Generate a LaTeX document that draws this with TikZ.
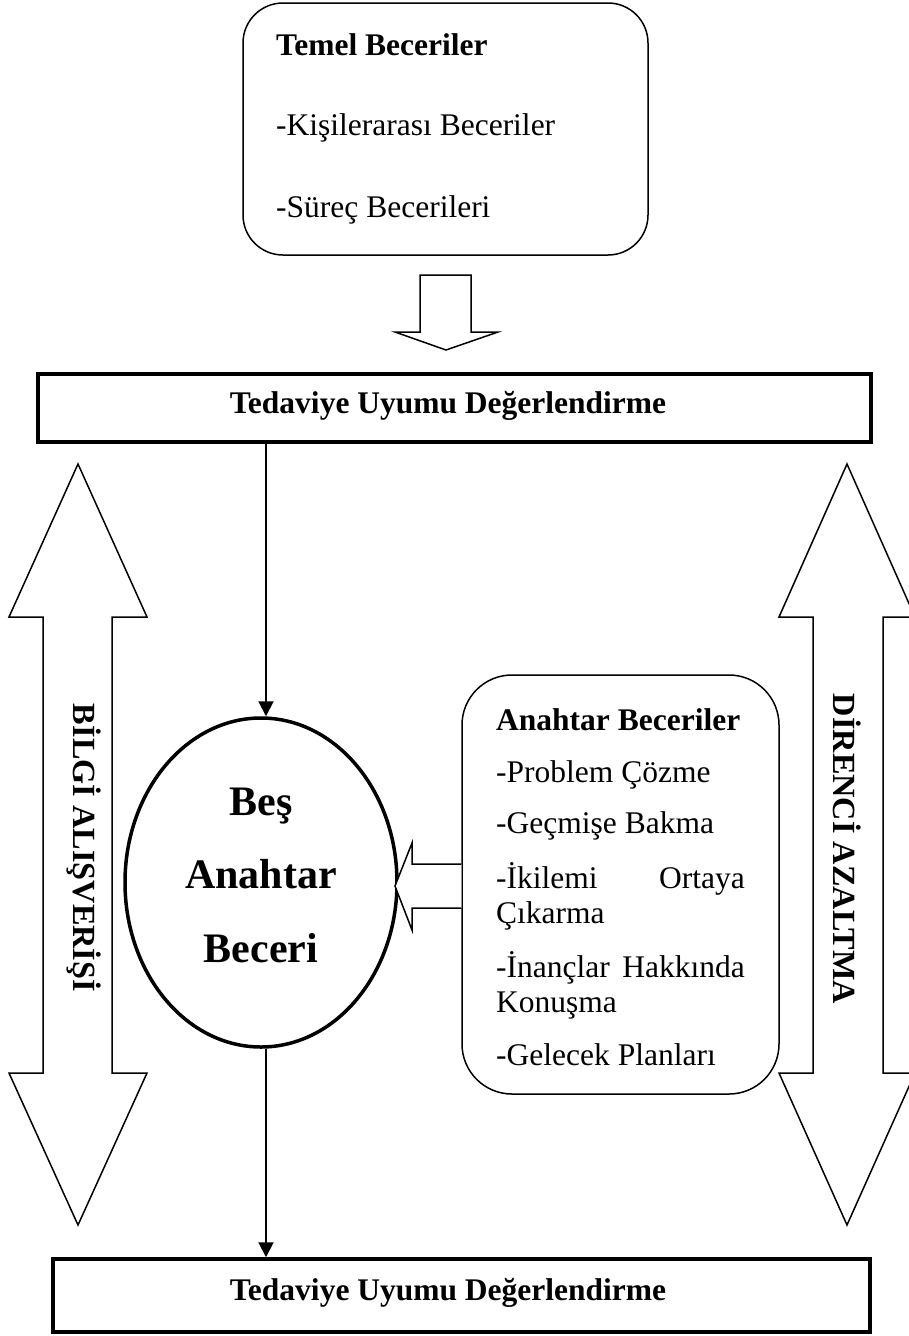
\documentclass[tikz,border=0pt]{standalone}
\usepackage{fontspec}
\setmainfont{Liberation Serif}
\usetikzlibrary{shapes.geometric,arrows.meta}
\tikzset{
  txt/.style={font=\fontsize{31.5}{36}\selectfont, inner sep=0pt, anchor=base west},
  btxt/.style={font=\bfseries\fontsize{31.5}{36}\selectfont, inner sep=0pt, anchor=base west},
  bigtxt/.style={font=\bfseries\fontsize{42}{48}\selectfont, inner sep=0pt, anchor=base},
  vtxt/.style={font=\bfseries\fontsize{32.3}{36}\selectfont, inner sep=0pt, rotate=-90},
  thinline/.style={line width=1.5pt},
  thickline/.style={line width=3.5pt},
  rbox/.style={draw, thinline, inner sep=0pt},
  sbox/.style={draw, thickline, inner sep=0pt},
  blockarrow/.style={draw, thinline, fill=white, line join=miter},
  conn/.style={line width=2pt, -{Triangle[length=15pt,width=15pt]}},
}
\begin{document}
\begin{tikzpicture}[x=1pt,y=-1pt]
\useasboundingbox (0,0) rectangle (909,1336);
\fill[white] (0,0) rectangle (909,1336);

% double arrows
\draw[blockarrow] (78,464) -- (147,617) -- (112,617) -- (112,1073) -- (147,1073) -- (78,1225)
  -- (9,1073) -- (43,1073) -- (43,617) -- (9,617) -- cycle;
\draw[blockarrow] (847,464) -- (915,617) -- (883,617) -- (883,1073) -- (915,1073) -- (847,1225)
  -- (779,1073) -- (813,1073) -- (813,617) -- (779,617) -- cycle;
\node[vtxt] (bilgi) at (84,848) {BİLGİ ALIŞVERİŞİ};
\node[vtxt] (direnc) at (847,849) {DİRENCİ AZALTMA};

% top rounded box
\node[rbox, rounded corners=40pt, minimum width=405pt, minimum height=252pt] (temel) at (445.5,129) {};
\node[btxt] (t1) at (276,55) {Temel Beceriler};
\node[txt] (t2) at (276,135) {-Kişilerarası Beceriler};
\node[txt] (t3) at (276,217) {-Süreç Becerileri};

% down block arrow
\draw[blockarrow] (420,275) -- (471,275) -- (471,332) -- (498,332) -- (446,350) -- (395,332) -- (420,332) -- cycle;

% upper assessment box
\node[sbox, minimum width=833pt, minimum height=68pt] (tedavi1) at (454.5,408) {};
\node[btxt, anchor=base] (tt1) at (448,413) {Tedaviye Uyumu Değerlendirme};

% ellipse
\node[draw, ellipse, thickline, minimum width=272pt, minimum height=329pt, inner sep=0pt] (bes) at (261,882.5) {};
\node[bigtxt] (b1) at (261,815) {Beş};
\node[bigtxt] (b2) at (261,888) {Anahtar};
\node[bigtxt] (b3) at (261,962) {Beceri};

% key skills box
\node[rbox, rounded corners=50pt, minimum width=317pt, minimum height=419pt] (anahtar) at (620.5,884.5) {};
\node[btxt] (a1) at (496,730) {Anahtar Beceriler};
\node[txt] (a2) at (496,782) {-Problem Çözme};
\node[txt] (a3) at (496,833) {-Geçmişe Bakma};
\node[txt] (a4) at (496,888) {-İkilemi};
\node[txt, anchor=base east] (a4b) at (745,888) {Ortaya};
\node[txt] (a5) at (496,923) {Çıkarma};
\node[txt] (a6) at (496,977) {-İnançlar};
\node[txt, anchor=base east] (a6b) at (745,977) {Hakkında};
\node[txt] (a7) at (496,1012) {Konuşma};
\node[txt] (a8) at (496,1065) {-Gelecek Planları};

% left block arrow from key skills box to ellipse
\draw[blockarrow] (anahtar.west |- 0,864) -- (412,864) -- (412,843) -- (395,886) -- (412,930) -- (412,908) -- (anahtar.west |- 0,908);

% lower assessment box
\node[sbox, minimum width=817pt, minimum height=73pt] (tedavi2) at (461.5,1295.5) {};
\node[btxt, anchor=base] (tt2) at (448,1300) {Tedaviye Uyumu Değerlendirme};

% connectors
\coordinate (ax) at (266,0);
\draw[conn] (ax |- tedavi1.south) -- (ax |- bes.north);
\draw[conn] (ax |- bes.south) -- (ax |- tedavi2.north);
\end{tikzpicture}
\end{document}
